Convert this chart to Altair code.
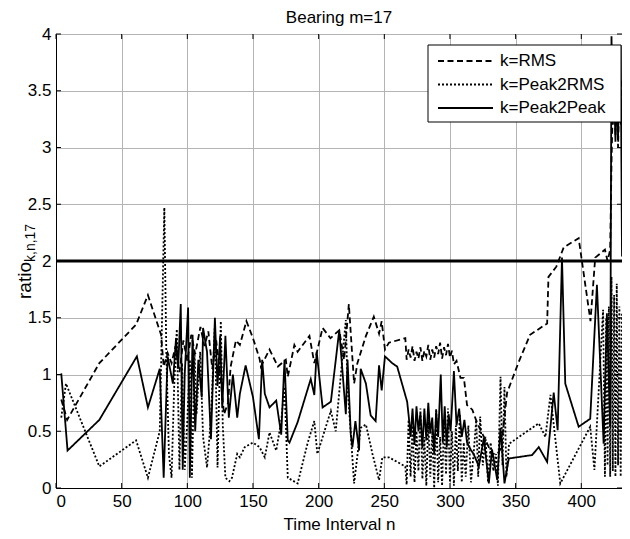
import altair as alt
import pandas as pd

FONT = "Liberation Sans"
TITLE = "Bearing m=17"
X_TITLE = "Time Interval n"
Y_TITLE_MAIN = "ratio"
Y_TITLE_SUB = "k,n,17"
SERIES = ["k=RMS", "k=Peak2RMS", "k=Peak2Peak"]
THRESHOLD = [2]
X_TICKS = [0, 50, 100, 150, 200, 250, 300, 350, 400]
Y_TICKS = [0, 0.5, 1, 1.5, 2, 2.5, 3, 3.5, 4]

# k=RMS (dashed)
RMS_N = [4, 8.5, 33, 61, 70, 80, 82, 85, 88, 91, 94, 97, 100, 103, 106, 110, 113, 116, 119, 122,
         125, 128, 131, 133, 137, 140, 145, 150, 155, 156, 162.6, 169, 175, 176.5, 181.5, 184, 193,
         196.7, 203, 209, 215.7, 219.4, 223, 227, 229.5, 236, 242, 246, 248, 250.5, 253.5, 266, 267,
         268.5, 270, 271.5, 273, 274.5, 276, 277.5, 279, 280.5, 282, 283.5, 285, 286.5, 288, 289.5,
         291, 292.5, 294, 295.5, 297, 298.5, 300, 301.5, 303, 305, 308, 310.6, 313, 317, 320.8,
         324.6, 328, 332, 336, 339, 343.5, 352, 361, 374, 375, 381, 386.6, 398, 407, 410.6, 418,
         420, 422, 423, 424, 425, 426, 427, 428, 429, 430, 431]
RMS_V = [0.78, 0.60, 1.10, 1.44, 1.70, 1.35, 1.07, 1.19, 1.10, 1.25, 1.02, 1.30, 1.12, 1.35, 1.18,
         1.42, 1.25, 1.38, 1.05, 1.30, 1.00, 0.65, 0.75, 1.07, 1.30, 1.26, 1.47, 1.32, 1.14, 1.07,
         1.22, 1.07, 1.13, 0.98, 1.26, 1.20, 1.34, 1.10, 1.41, 1.32, 1.39, 1.13, 1.62, 0.92, 1.10,
         1.34, 1.51, 1.36, 1.47, 1.22, 1.28, 1.32, 1.13,
         1.22, 1.15, 1.25, 1.12, 1.20, 1.14, 1.24, 1.12, 1.21, 1.16, 1.26, 1.13, 1.22, 1.15, 1.25,
         1.18, 1.28, 1.14, 1.24, 1.17, 1.27, 1.15, 1.21, 1.09, 1.12, 0.97, 0.97, 0.73, 0.69, 0.57,
         0.48, 0.40, 0.30, 0.30, 0.35, 0.84, 1.10, 1.35, 1.45, 1.86, 1.95, 2.12, 2.20, 1.47, 2.03,
         2.10, 2.00, 2.10, 2.86, 3.40, 3.90, 3.10, 3.70, 3.00, 3.50, 3.20, 3.60]

# k=Peak2RMS (dotted)
P2RMS_N = [4, 7.6, 33, 61, 70, 79, 82.5, 84, 86, 88, 90, 92, 94, 96, 98, 100, 102, 103.5, 105.5,
           107, 109.8, 112, 115, 118, 121, 123, 125.5, 127, 129, 132, 134, 138, 140, 143.7, 150,
           155, 159, 162.6, 167.7, 171.5, 174, 176.5, 184, 191.7, 196.7, 199, 209.3, 213, 220.7,
           222, 227, 232, 236, 241, 246, 248.5, 253.5, 266, 267,
           268.5, 270, 271.5, 273, 274.5, 276, 277.5, 279, 280.5, 282, 283.5, 285, 286.5, 288,
           289.5, 291, 292.5, 294, 295.5, 297, 298.5, 300, 301.5, 303, 304.5, 306, 307.5, 309,
           310.5, 312, 314, 316, 318, 320, 321.5, 323, 325, 327, 329, 331, 333, 335, 336.5, 338.5,
           340, 341.5, 343, 345, 367.6, 372.7, 376.5, 384, 406.8, 410, 416.6, 418, 419, 420, 421,
           422, 423, 424, 425, 426, 427, 428, 429, 430, 431]
P2RMS_V = [0.62, 0.92, 0.19, 0.42, 0.09, 0.50, 2.47, 1.19, 0.30, 0.09, 0.90, 1.40, 0.16, 1.10, 0.16,
           0.60, 1.13, 0.09, 1.19, 0.65, 1.20, 0.45, 0.18, 0.62, 1.44, 0.18, 1.47, 0.55, 0.09, 0.06,
           0.09, 0.30, 0.27, 0.36, 0.40, 0.36, 0.27, 0.49, 0.33, 0.59, 0.89, 0.09, 0.04, 0.40, 0.59,
           0.30, 0.68, 0.50, 1.48, 0.90, 0.04, 0.53, 0.56, 0.30, 0.07, 0.27, 0.27, 0.19, 0.03,
           0.60, 0.10, 0.55, 0.05, 0.50, 0.15, 0.70, 0.08, 0.45, 0.02, 0.60, 0.10, 0.50, 0.00,
           0.70, 0.05, 0.45, 0.02, 0.60, 0.12, 0.70, 0.05, 0.50, 0.02, 0.55, 0.15, 0.65, 0.05,
           0.40, 0.10, 0.55, 0.05, 0.30, 0.60, 0.10, 0.63, 0.20, 0.45, 0.05, 0.40, 0.15, 0.30, 0.02,
           0.98, 0.20, 0.89, 0.10, 0.39, 0.57, 0.45, 0.82, 0.04, 0.54, 0.16, 1.57, 0.10, 1.50, 0.20,
           1.60, 0.10, 1.86, 0.15, 1.70, 0.10, 1.80, 0.20, 1.60, 0.10, 1.55]

# k=Peak2Peak (solid)
P2P_N = [4, 8.8, 33, 61.6, 70, 79, 82, 85, 89, 91.4, 93, 95, 96.5, 98, 100.6, 101.9, 104, 106,
         108.4, 111, 112, 115, 118, 121, 123, 125, 126.6, 129, 131.6, 134.7, 138, 140, 144.4, 150,
         154.5, 157, 159, 162.6, 167.7, 171.5, 174, 176.5, 177.8, 184, 194, 196.7, 198.5, 203,
         209.3, 215.7, 220.7, 222, 224.5, 225.7, 228, 230.8, 232, 236, 239.6, 243.4, 246, 248,
         250.5, 256, 259.8, 267.4, 268.7,
         270, 271.5, 273, 274.5, 276, 277.5, 279, 280.5, 282, 283.5, 285, 286.5, 288, 289.5, 291,
         293, 294.5, 296, 297.5, 299, 300.5, 303, 305, 307, 309, 311, 313, 315.7, 318, 322, 325.8,
         329.6, 332, 336, 338.5, 341.5, 344.8, 362.5, 367.6, 374, 379, 382, 385.3, 387.8, 398,
         406.8, 411.9, 417, 419.5, 422, 423, 424, 425, 426, 427, 428, 429, 430, 431]
P2P_V = [1.01, 0.33, 0.60, 1.16, 0.71, 1.05, 0.09, 1.16, 0.92, 1.32, 1.05, 1.62, 0.16, 1.00, 1.59,
         0.09, 1.35, 0.50, 1.13, 0.80, 1.41, 1.20, 0.43, 1.50, 0.90, 1.34, 0.71, 1.34, 0.62, 1.00,
         0.62, 0.83, 1.08, 0.80, 0.43, 1.13, 0.83, 0.71, 0.77, 0.47, 1.13, 0.42, 0.40, 0.58, 0.96,
         0.82, 1.20, 0.71, 0.76, 1.39, 0.65, 1.13, 0.47, 0.36, 0.59, 0.33, 1.05, 0.92, 0.64, 0.59,
         1.08, 0.86, 1.16, 1.10, 1.07, 0.76, 0.62,
         0.45, 0.70, 0.38, 0.72, 0.50, 0.66, 0.35, 0.70, 0.42, 0.75, 0.48, 0.62, 0.30, 0.68, 0.45,
         1.00, 0.40, 0.72, 0.36, 0.65, 0.50, 1.03, 0.55, 0.70, 0.45, 0.60, 0.40, 0.34, 0.30, 0.19,
         0.44, 0.04, 0.34, 0.07, 0.53, 0.04, 0.26, 0.29, 0.36, 0.23, 0.84, 0.51, 2.03, 0.92, 0.54,
         0.61, 1.79, 0.39, 1.54, 0.54, 3.98, 3.20, 3.55, 3.05, 3.50, 3.10, 3.60, 3.90, 2.04]

frames = []
for name, ns, vs in [(SERIES[0], RMS_N, RMS_V), (SERIES[1], P2RMS_N, P2RMS_V), (SERIES[2], P2P_N, P2P_V)]:
    frames.append(pd.DataFrame({"n": ns, "v": vs, "k": name}))
df = pd.concat(frames, ignore_index=True)

W, H = 566, 454
xs = alt.Scale(domain=[0, 431], nice=False, zero=False)
ys = alt.Scale(domain=[0, 4], nice=False)
dash_scale = alt.Scale(domain=SERIES, range=[[6, 3.5], [2, 2], [1, 0]])

lines = alt.Chart(df).mark_line(color="black", strokeWidth=1.8, clip=True).encode(
    x=alt.X("n:Q", scale=xs, axis=alt.Axis(values=X_TICKS, title=X_TITLE, titlePadding=7)),
    y=alt.Y("v:Q", scale=ys, axis=alt.Axis(values=Y_TICKS, title=None, format="~g")),
    strokeDash=alt.StrokeDash("k:N", scale=dash_scale, legend=None),
)

thr = alt.Chart(pd.DataFrame({"v": THRESHOLD})).mark_rule(color="black", strokeWidth=3).encode(
    y=alt.Y("v:Q", scale=ys)
)

xt = pd.DataFrame({"n": X_TICKS})
yt = pd.DataFrame({"v": Y_TICKS})
tick_b = alt.Chart(xt).mark_rule(color="black", strokeWidth=1).encode(
    x=alt.X("n:Q", scale=xs), y=alt.value(H), y2=alt.value(H - 5))
tick_t = alt.Chart(xt).mark_rule(color="black", strokeWidth=1).encode(
    x=alt.X("n:Q", scale=xs), y=alt.value(0), y2=alt.value(5))
tick_l = alt.Chart(yt).mark_rule(color="black", strokeWidth=1).encode(
    y=alt.Y("v:Q", scale=ys), x=alt.value(0), x2=alt.value(5))
tick_r = alt.Chart(yt).mark_rule(color="black", strokeWidth=1).encode(
    y=alt.Y("v:Q", scale=ys), x=alt.value(W - 5), x2=alt.value(W))

# legend (drawn in the top-right corner of the plot)
leg_df = pd.DataFrame({"k": SERIES, "i": [0, 1, 2]})
leg_box = alt.Chart(pd.DataFrame({"a": [0]})).mark_rect(
    fill="white", stroke="black", strokeWidth=1
).encode(x=alt.value(372), x2=alt.value(565), y=alt.value(11), y2=alt.value(88))
leg_lines = alt.Chart(leg_df).transform_calculate(
    yp="27 + 23.5 * datum.i"
).mark_rule(color="black", strokeWidth=1.8).encode(
    x=alt.value(382), x2=alt.value(437),
    y=alt.Y("yp:Q", scale=None),
    strokeDash=alt.StrokeDash("k:N", scale=dash_scale, legend=None),
)
leg_text = alt.Chart(leg_df).transform_calculate(
    yp="27 + 23.5 * datum.i"
).mark_text(align="left", baseline="middle", fontSize=17, font=FONT, color="black").encode(
    x=alt.value(444), y=alt.Y("yp:Q", scale=None), text="k:N"
)

title_txt = alt.Chart(pd.DataFrame({"s": [TITLE]})).mark_text(
    align="center", baseline="alphabetic", fontSize=17, font=FONT, color="black"
).encode(text="s:N", x=alt.value(W / 2), y=alt.value(-11))

ytitle_main = alt.Chart(pd.DataFrame({"s": [Y_TITLE_MAIN]})).mark_text(
    angle=270, align="left", baseline="alphabetic", fontSize=19, font=FONT, color="black"
).encode(text="s:N", x=alt.value(-25), y=alt.value(265))
ytitle_sub = alt.Chart(pd.DataFrame({"s": [Y_TITLE_SUB]})).mark_text(
    angle=270, align="left", baseline="alphabetic", fontSize=14, font=FONT, color="black"
).encode(text="s:N", x=alt.value(-21), y=alt.value(228))

chart = alt.layer(
    thr, lines, tick_b, tick_t, tick_l, tick_r, leg_box, leg_lines, leg_text,
    title_txt, ytitle_main, ytitle_sub
).properties(
    width=W, height=H,
    padding={"left": 48, "top": 26, "right": 0, "bottom": 50},
    autosize=alt.AutoSizeParams(type="none"),
).configure_view(
    stroke="black", strokeWidth=1
).configure_axis(
    labelFont=FONT, labelFontSize=17, labelColor="black",
    titleFont=FONT, titleFontSize=17, titleColor="black", titleFontWeight="normal",
    domainColor="black", domainWidth=1, ticks=False, labelPadding=5,
    grid=True, gridColor="#b4b4b4", gridWidth=1,
)

chart.save("out.html", embed_options={"renderer": "svg", "actions": False})
